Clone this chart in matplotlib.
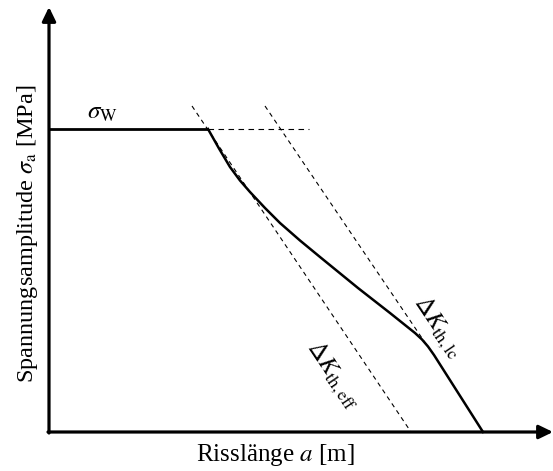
import matplotlib.pyplot as plt

plt.rcParams['font.family'] = ['Liberation Serif', 'DejaVu Serif']
plt.rcParams['mathtext.fontset'] = 'stix'

# Kitagawa-Takahashi schematic (arbitrary units)
sigma_w = 6.06
plateau_a = [0.0, 3.18]

# transition curve between the two threshold lines
curve_a = [3.18, 3.40, 3.62, 3.82, 4.02, 4.32, 4.62, 5.02, 5.42, 6.18,
           6.82, 7.32, 7.46, 7.58, 7.70, 8.68]
curve_s = [6.06, 5.67, 5.30, 5.03, 4.80, 4.48, 4.18, 3.83, 3.50, 2.88,
           2.38, 1.98, 1.85, 1.71, 1.54, 0.00]

# threshold lines (dashed)
eff_a = [2.86, 7.24]
eff_s = [6.52, 0.00]
lc_a = [4.32, 7.58]
lc_s = [6.52, 1.70]
ext_a = [3.18, 5.20]

x_max, y_max = 10.08, 8.5

fig = plt.figure(figsize=(5.53, 4.71), dpi=100)
ax = fig.add_axes([0, 0, 1, 1])
ax.set_xlim(-0.98, 10.08)
ax.set_ylim(-0.78, 8.64)
ax.axis('off')

# axes with arrow heads
arrow = dict(arrowstyle='-|>,head_width=0.34,head_length=0.7', lw=2.3,
             color='black', shrinkA=0, shrinkB=0, mutation_scale=12)
ax.annotate('', xy=(0, y_max), xytext=(0, -0.02), arrowprops=arrow)
ax.annotate('', xy=(x_max, 0), xytext=(-0.02, 0), arrowprops=arrow)

ax.plot(plateau_a, [sigma_w, sigma_w], color='black', lw=2.0,
        solid_capstyle='butt')
ax.plot(curve_a, curve_s, color='black', lw=1.8, solid_joinstyle='round')
ax.plot(ext_a, [sigma_w, sigma_w], color='black', lw=0.8, ls=(0, (5, 4)))
ax.plot(eff_a, eff_s, color='black', lw=0.8, ls=(0, (4, 3.5)))
ax.plot(lc_a, lc_s, color='black', lw=0.8, ls=(0, (4, 3.5)))

ax.text(1.06, 6.38, r'$\sigma_{\mathrm{W}}$', fontsize=18, ha='center',
        va='center')
ax.text(5.68, 1.14, r'$\Delta K_{\mathrm{th,eff}}$', fontsize=18,
        rotation=-56, ha='center', va='center', rotation_mode='anchor')
ax.text(7.78, 2.10, r'$\Delta K_{\mathrm{th,lc}}$', fontsize=18,
        rotation=-56, ha='center', va='center', rotation_mode='anchor')

ax.text(4.52, -0.46, r'Risslänge $a$ [m]', fontsize=18, ha='center',
        va='center')
ax.text(-0.42, 3.96, r'Spannungsamplitude $\sigma_{\mathrm{a}}$ [MPa]',
        fontsize=17.5, rotation=90, ha='center', va='center')

fig.savefig('out.png', dpi=100)
